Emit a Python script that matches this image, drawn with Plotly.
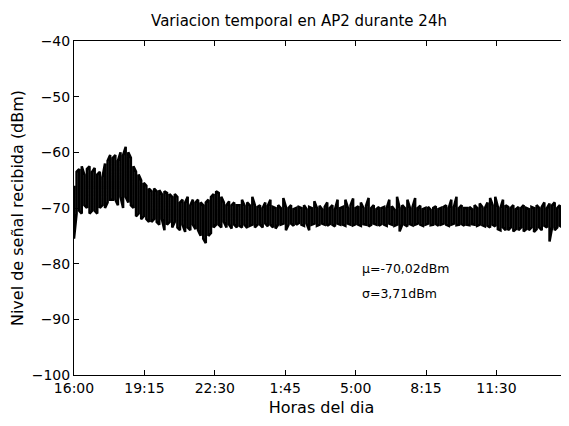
import plotly.graph_objects as go

# Time axis (hours since 16:00); one reading every ~7.2 minutes
sample_h = 0.1193
tick_vals = [0, 3.25, 6.5, 9.75, 13.0, 16.25, 19.5]
tick_text = ["16:00", "19:15", "22:30", "1:45", "5:00", "8:15", "11:30"]
y_ticks = [-100, -90, -80, -70, -60, -50, -40]

# Upper envelope of the received level (dBm)
hi = [
    -66, -63.5, -63, -62.5, -64, -63, -62.5, -63.5,
    -62.8, -64, -63.5, -64.5, -62, -61.5, -60.5, -61,
    -60.5, -61.5, -60, -60.5, -59, -60, -61, -62.5,
    -63.5, -64, -65, -65.5, -66, -66.5, -67, -66.5,
    -67, -66.8, -67.5, -67, -67.3, -67.5, -68, -67.5,
    -68, -69, -68.5, -69, -68, -69.5, -68.5, -69,
    -68.5, -69, -69.5, -69, -68.5, -68, -67.5, -67,
    -67.3, -68, -69, -69.5, -68.8, -69.5, -69, -69.5,
    -69.5, -68.5, -69.6, -69, -69.5, -68, -69.5, -69.8,
    -69.5, -70, -69, -69.6, -68.5, -69.8, -70, -69.5,
    -70, -68.2, -69.8, -70, -69.5, -70.2, -70, -69.8,
    -70, -69.5, -70.2, -69.8, -70, -68.8, -70, -69.6,
    -70.2, -69.8, -69, -70, -69.5, -70.2, -68.5, -70,
    -69.8, -68.5, -70, -69.5, -68.3, -70, -69.7, -69,
    -70, -69.6, -68.2, -70, -69.5, -70.2, -69.8, -70,
    -69.8, -70, -68.5, -69.7, -70.3, -68, -70, -69.5,
    -70, -68.5, -70, -69.8, -68.2, -70, -69.6, -70.2,
    -70, -69.8, -70.3, -70, -69.7, -70.2, -70, -69.8,
    -69.5, -70, -68.5, -69.8, -68, -70, -69.5, -70,
    -70, -69.8, -70.2, -69.5, -70, -69.2, -69.8, -70,
    -69, -68.2, -69.5, -68, -69.8, -70, -68.5, -69.5,
    -69.8, -70, -69.5, -70.2, -69.8, -70, -69.5, -70,
    -70.2, -69.8, -70, -69.5, -70, -69.8, -69, -70,
    -69.2, -69.5, -69, -70, -69.5, -69.2, -69.5, -69.8,
    -69.5,
]
# Lower envelope of the received level (dBm)
lo = [
    -75.5, -71, -70.5, -71, -69.5, -70, -71, -70.5,
    -70.5, -71, -70, -69.5, -70, -69, -68.5, -68.5,
    -68.5, -69.5, -68, -70, -68, -69, -69.5, -70,
    -71.5, -71, -72, -71.5, -72, -72.5, -72.5, -72,
    -72.5, -73, -72, -74, -73, -72.5, -73.5, -72.5,
    -73.5, -74, -73, -74.3, -73.5, -74, -73, -73.8,
    -74, -75, -75.5, -76.3, -75, -74.5, -73.5, -73,
    -73, -73.5, -72.5, -73.5, -73, -73.7, -73, -73.5,
    -73.2, -73.5, -73, -73.6, -73.2, -73, -73.5, -73,
    -73, -73.5, -72.8, -73.3, -73, -73.5, -73.7, -73,
    -73, -72.8, -74, -73, -72.8, -73.2, -73, -72.7,
    -73, -73.2, -72.8, -74, -73, -72.8, -73.2, -73,
    -72.8, -73, -73.2, -72.9, -73, -73.3, -72.8, -73,
    -73, -73.2, -72.8, -73, -73.1, -72.9, -73, -73.2,
    -72.9, -73, -73.3, -73, -72.8, -73, -73.2, -72.9,
    -73, -73.2, -72.8, -73, -73.2, -73, -74.2, -73,
    -73, -73.3, -72.9, -73.1, -73, -72.8, -73, -73.2,
    -73, -72.8, -73.1, -73, -72.9, -73.2, -73, -72.8,
    -73, -73.2, -73, -72.8, -73.1, -73, -72.9, -73.2,
    -73, -73.1, -72.9, -73, -73.2, -73, -73.1, -73.3,
    -73.2, -73.5, -73, -73.3, -73.8, -74, -73.5, -74,
    -74, -73.5, -74.2, -73.8, -74, -73.5, -74.2, -73.8,
    -74, -73.5, -74.3, -73.8, -73.5, -74, -73.2, -73.5,
    -76, -73.5, -74, -73.5, -73.2, -73.5, -73, -73.5,
    -73,
]

stats_text = ["μ=-70,02dBm", "σ=3,71dBm"]
stats_pos = [(13.2, -80.8), (13.2, -85.4)]

# Dense up/down trace through the read envelopes
xs, ys = [], []
for i, (h, l) in enumerate(zip(hi, lo)):
    t = i * sample_h
    xs += [t, t]
    ys += [h, l] if i % 2 == 0 else [l, h]

FONT = "DejaVu Sans"

fig = go.Figure()
fig.add_trace(go.Scatter(x=xs, y=ys, mode="lines",
                         line=dict(color="black", width=2.5),
                         hoverinfo="skip", showlegend=False))

for txt, (tx, ty) in zip(stats_text, stats_pos):
    fig.add_annotation(x=tx, y=ty, text=txt, showarrow=False,
                       xanchor="left", yanchor="middle",
                       font=dict(family=FONT, size=12.5, color="black"))

# The page body adds an 8px offset, so the figure is 8px smaller
fig.update_layout(
    width=561, height=418,
    margin=dict(l=66, r=0, t=33, b=51, autoexpand=False),
    paper_bgcolor="white", plot_bgcolor="white",
    title=dict(text="Variacion temporal en AP2 durante 24h",
               x=291 / 561, xanchor="center", y=1 - 13 / 418, yanchor="middle",
               xref="container", yref="container", automargin=False,
               font=dict(family=FONT, size=15, color="black")),
    font=dict(family=FONT, size=14, color="black"),
)
fig.update_xaxes(
    range=[0, 22.85], tickvals=tick_vals, ticktext=tick_text,
    ticks="inside", ticklen=5, tickcolor="black",
    showline=True, linecolor="black", linewidth=1, mirror="ticks",
    showgrid=False, zeroline=False, automargin=False,
    tickfont=dict(family=FONT, size=14, color="black"),
    title=dict(text="Horas del dia", standoff=7,
               font=dict(family=FONT, size=16, color="black")),
)
fig.update_yaxes(
    range=[-100, -40], tickvals=y_ticks,
    ticks="inside", ticklen=5, tickcolor="black",
    showline=True, linecolor="black", linewidth=1, mirror=False,
    showgrid=False, zeroline=False, automargin=False,
    tickfont=dict(family=FONT, size=14, color="black"),
    title=dict(text="Nivel de señal recibida (dBm)", standoff=9,
               font=dict(family=FONT, size=16, color="black")),
)

fig.write_html("out.html")
